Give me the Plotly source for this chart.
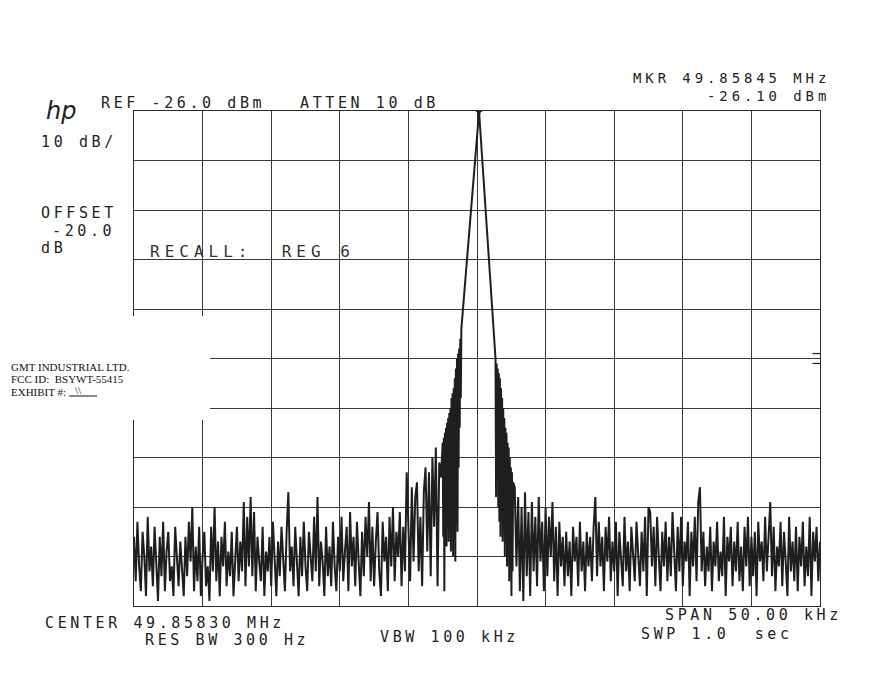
import numpy as np
import plotly.graph_objects as go

# ---------------- instrument settings (from the plot header/footer) -------------
center_mhz = 49.85830
span_khz = 50.0
ref_dbm = -26.0
db_per_div = 10
n_div = 10

# ---------------- trace data -----------------------------------------------------
noise_step_khz = 0.125
left_start_khz = -25.0
left_noise_dbm = [
    -112, -121, -109, -118, -123, -111, -116, -124, -108, -119,
    -114, -122, -110, -117, -125, -112, -120, -109, -123, -115,
    -111, -121, -118, -124, -110, -116, -122, -113, -119, -124,
    -112, -120, -109, -117, -106, -123, -114, -121, -110, -124,
    -116, -111, -122, -118, -125, -110, -119, -106, -121, -113,
    -124, -112, -118, -109, -122, -115, -120, -111, -124, -117,
    -110, -121, -113, -119, -105, -122, -108, -118, -104, -120,
    -107, -123, -112, -117, -121, -110, -124, -115, -119, -112,
    -122, -109, -118, -124, -113, -120, -110, -116, -123, -111,
    -103, -119, -114, -122, -110, -117, -124, -112, -120, -109,
    -118, -123, -111, -116, -121, -108, -119, -104, -122, -113,
    -117, -124, -110, -120, -114, -122, -109, -118, -123, -112,
    -119, -108, -121, -115, -110, -123, -107, -118, -112, -122,
    -109, -117, -124, -111, -120, -108, -116, -105, -121, -110,
    -122, -113, -107, -119, -124, -109, -117, -112, -123, -108,
    -118, -106, -121, -111, -116, -107, -122, -110, -119, -99,
    -112, -121, -102, -117, -104, -101, -119, -108, -122, -103,
    -98, -115, -99, -120, -96, -110, -94, -122, -97, -100,
]

skirt_left_khz = [-2.5, -2.46, -2.42, -2.38, -2.34, -2.30, -2.26, -2.22, -2.18, -2.14,
                  -2.10, -2.06, -2.02, -1.98, -1.94, -1.90, -1.86, -1.82, -1.78, -1.74,
                  -1.70, -1.66, -1.62, -1.58, -1.54, -1.50, -1.46, -1.42, -1.38, -1.34,
                  -1.30, -1.26, -1.22, -1.18, -1.14]
skirt_left_dbm = [-93, -112, -92, -123, -91, -110, -90, -114, -89, -108,
                  -88, -113, -87, -111, -86, -115, -84, -110, -83, -116,
                  -82, -112, -80, -117, -78, -109, -76, -111, -75, -98,
                  -74, -90, -72, -84, -70]

peak_khz = 0.15          # MKR 49.85845 MHz
peak_dbm = -26.10

skirt_right_khz = [1.35, 1.39, 1.43, 1.47, 1.51, 1.55, 1.59, 1.63, 1.67, 1.71,
                   1.75, 1.79, 1.83, 1.87, 1.91, 1.95, 1.99, 2.03, 2.07, 2.11,
                   2.15, 2.19, 2.23, 2.27, 2.31, 2.35, 2.39, 2.43, 2.47, 2.51,
                   2.55, 2.59, 2.63]
skirt_right_dbm = [-76, -104, -77, -98, -78, -106, -79, -109, -80, -112,
                   -82, -108, -84, -113, -86, -110, -88, -116, -90, -112,
                   -91, -118, -93, -114, -94, -121, -96, -117, -98, -124,
                   -99, -119, -101]

right_start_khz = 2.75
right_noise_dbm = [
    -102, -118, -104, -123, -106, -125, -103, -120, -107, -124,
    -105, -119, -108, -122, -104, -117, -109, -123, -106, -120,
    -108, -116, -105, -121, -110, -124, -109, -118, -112, -122,
    -111, -120, -113, -124, -110, -117, -112, -122, -109, -119,
    -113, -123, -111, -118, -112, -121, -110, -104, -120, -109,
    -118, -112, -123, -110, -117, -108, -121, -113, -119, -109,
    -124, -111, -116, -122, -108, -119, -113, -123, -110, -117,
    -121, -109, -115, -122, -111, -119, -108, -124, -106, -107,
    -118, -110, -122, -108, -116, -123, -111, -118, -109, -121,
    -112, -120, -107, -117, -123, -110, -119, -108, -122, -113,
    -117, -109, -124, -111, -118, -108, -121, -105, -102, -119,
    -111, -122, -114, -119, -110, -123, -113, -118, -109, -121,
    -115, -120, -108, -124, -112, -117, -110, -122, -113, -119,
    -109, -121, -114, -123, -110, -118, -108, -122, -112, -120,
    -111, -124, -109, -117, -113, -121, -108, -119, -112, -105,
    -120, -110, -123, -114, -118, -109, -122, -111, -117, -124,
    -108, -119, -113, -121, -110, -123, -112, -118, -109, -122,
    -114, -120, -108, -124, -111, -117, -110, -121, -113,
]

display_line_dbm = -76   # the "=" marks on the right border

# ---------------- assemble trace ---------------------------------------------------
left_khz = left_start_khz + noise_step_khz * np.arange(len(left_noise_dbm))
right_khz = right_start_khz + noise_step_khz * np.arange(len(right_noise_dbm))
freq = np.concatenate([left_khz, skirt_left_khz, [peak_khz], skirt_right_khz, right_khz])
level = np.concatenate([left_noise_dbm, skirt_left_dbm, [peak_dbm], skirt_right_dbm, right_noise_dbm])

ink = "#1e1e1e"
fig = go.Figure()
fig.add_trace(go.Scatter(x=freq, y=level, mode="lines",
                         line=dict(color=ink, width=2), hoverinfo="skip", showlegend=False))
fig.add_trace(go.Scatter(x=[peak_khz], y=[peak_dbm], mode="markers",
                         marker=dict(symbol="asterisk", size=5, color=ink,
                                     line=dict(color=ink, width=1)),
                         showlegend=False, hoverinfo="skip"))

# page offset (browser body margin) compensation
OFF = 8
W, H = 881 - 2 * OFF, 700 - 2 * OFF
L, T = 134 - OFF, 111 - OFF
PW, PH = 686, 495
R, B = W - L - PW, H - T - PH

bottom_dbm = ref_dbm - db_per_div * n_div
fig.update_xaxes(range=[-span_khz / 2, span_khz / 2], dtick=span_khz / n_div, tick0=-span_khz / 2,
                 showgrid=True, gridcolor="#3a3a3a", gridwidth=1,
                 showline=True, linecolor="#2a2a2a", linewidth=1.2, mirror=True,
                 showticklabels=False, ticks="", zeroline=False, fixedrange=True)
fig.update_yaxes(range=[bottom_dbm, ref_dbm], dtick=db_per_div, tick0=bottom_dbm,
                 showgrid=True, gridcolor="#3a3a3a", gridwidth=1,
                 showline=True, linecolor="#2a2a2a", linewidth=1.2, mirror=True,
                 showticklabels=False, ticks="", zeroline=False, fixedrange=True)

def px2paper(px, py):
    # px, py are page pixels of the reference
    fx, fy = px - OFF, py - OFF
    return (fx - L) / PW, (H - B - fy) / PH

annotations = []
def ann(text, px, py, size=15, ls=3.6, anchor="left", family="DejaVu Sans Mono",
        color="#222222", italic=False, align="left"):
    x, y = px2paper(px, py)
    t = text
    if ls:
        t = f'<span style="letter-spacing:{ls}px">{text}</span>'
    if italic:
        t = f"<i>{t}</i>"
    annotations.append(dict(text=t, x=x, y=y, xref="paper", yref="paper",
                            xanchor=anchor, yanchor="middle", showarrow=False, align=align,
                            font=dict(family=family, size=size, color=color)))

# header
ann("hp", 44, 111, size=24, ls=0, family="DejaVu Sans", italic=True)
ann("REF -26.0 dBm", 99, 103)
ann("ATTEN 10 dB", 298, 103)
ann('MKR 49.85845 MHz<br>-26.10 dBm', 832, 86.5, size=14, ls=3.9, anchor="right", align="right")
# left side
ann("10 dB/", 39, 142)
ann("OFFSET", 39, 213)
ann("-20.0", 50, 231)
ann("dB", 39, 248)
ann("RECALL:  REG 6", 148, 252, size=16, ls=5, color="#333333")
# footer
ann("CENTER 49.85830 MHz", 43, 623)
ann("RES BW 300 Hz", 143, 640)
ann("VBW 100 kHz", 378, 637)
ann("SPAN 50.00 kHz", 663, 615)
ann("SWP 1.0  sec", 639, 634)
# exhibit stamp
stamp_font = dict(size=11, ls=0, family="Liberation Serif", color="#111111")
ann("GMT INDUSTRIAL LTD.", 9, 367, **stamp_font)
ann("FCC ID:  BSYWT-55415", 9, 379, **stamp_font)
ann("EXHIBIT #:", 9, 392, **stamp_font)
ann("\\\\", 73, 390, **stamp_font)

shapes = []
# white stamp area covering part of the grid
x0, y0 = px2paper(8, 420)
x1, y1 = px2paper(210, 316)
shapes.append(dict(type="rect", xref="paper", yref="paper", x0=x0, x1=x1, y0=y0, y1=y1,
                   fillcolor="white", line=dict(width=0), layer="above"))
# underline of exhibit number
ux0, uy = px2paper(69, 396)
ux1, _ = px2paper(97, 396)
shapes.append(dict(type="line", xref="paper", yref="paper", x0=ux0, x1=ux1, y0=uy, y1=uy,
                   line=dict(color="#111111", width=1), layer="above"))
# display line "=" marks on right border
for dy in (1, -1):
    shapes.append(dict(type="line", xref="x domain", yref="y", x0=0.989, x1=1.0,
                       y0=display_line_dbm + dy, y1=display_line_dbm + dy,
                       line=dict(color=ink, width=1.2)))

fig.update_layout(width=W, height=H, margin=dict(l=L, r=R, t=T, b=B, pad=0),
                  paper_bgcolor="white", plot_bgcolor="white",
                  annotations=annotations, shapes=shapes, showlegend=False)

fig.write_html("out.html")
